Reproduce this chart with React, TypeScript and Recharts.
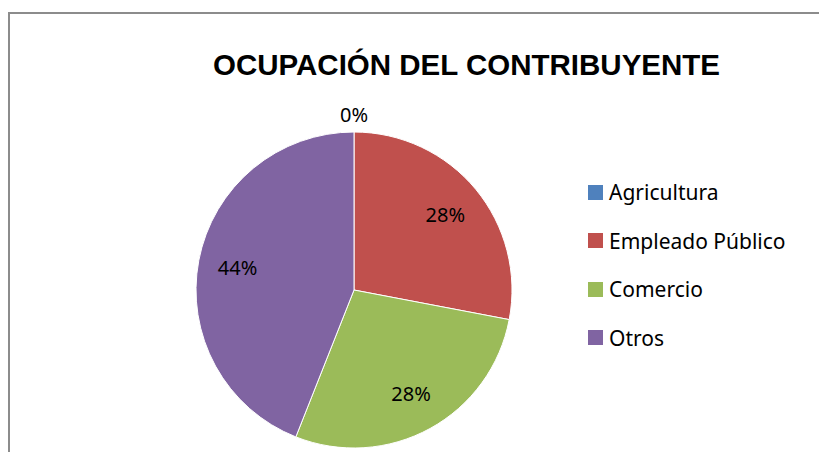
import { PieChart, Pie, Cell, Legend } from 'recharts';

const categories = ['Agricultura', 'Empleado Público', 'Comercio', 'Otros'];
const shares = [0, 28, 28, 44];
const colors = ['#4F81BD', '#C0504D', '#9BBB59', '#8064A2'];

const data = categories.map((name, i) => ({ name, value: shares[i] }));

const RAD = Math.PI / 180;

function renderLabel(props: any) {
  const { cx, cy, midAngle, outerRadius, value } = props;
  const r = value === 0 ? outerRadius + 18 : outerRadius * 0.75;
  const x = cx + r * Math.cos(-midAngle * RAD);
  const y = cy + r * Math.sin(-midAngle * RAD);
  return (
    <text
      x={x}
      y={y}
      textAnchor="middle"
      dominantBaseline="central"
      fill="#000"
      fontSize={20}
      fontFamily="'Noto Sans', sans-serif"
    >
      {`${value}%`}
    </text>
  );
}

function LegendList() {
  return (
    <div style={{ fontFamily: "'Noto Sans', sans-serif", fontSize: 21, color: '#000' }}>
      {categories.map((name, i) => (
        <div key={name} style={{ display: 'flex', alignItems: 'center', height: 48.5 }}>
          <span
            style={{ width: 15, height: 15, background: colors[i], display: 'inline-block', marginRight: 6 }}
          />
          <span>{name}</span>
        </div>
      ))}
    </div>
  );
}

export default function App() {
  return (
    <div style={{ position: 'fixed', left: 0, top: 0, width: 819, height: 452, overflow: 'hidden', background: '#fff' }}>
      {/* chart frame: only top and left edges are visible in the crop */}
      <div style={{ position: 'absolute', left: 8, top: 12, width: 811, height: 1.5, background: '#8c8c8c' }} />
      <div style={{ position: 'absolute', left: 8, top: 12, width: 1.5, height: 440, background: '#8c8c8c' }} />
      <div
        style={{
          position: 'absolute',
          left: 100,
          width: 733,
          top: 48,
          textAlign: 'center',
          fontFamily: "'Liberation Sans', Arial, sans-serif",
          fontWeight: 'bold',
          fontSize: 29.5,
          color: '#000',
        }}
      >
        OCUPACIÓN DEL CONTRIBUYENTE
      </div>
      <PieChart
        width={819}
        height={452}
        margin={{ top: 0, right: 0, bottom: 0, left: 0 }}
        style={{ position: 'absolute', left: 0, top: 0 }}
      >
        <Pie
          data={data}
          dataKey="value"
          nameKey="name"
          cx={354}
          cy={290}
          outerRadius={158}
          startAngle={90}
          endAngle={-270}
          stroke="#fff"
          strokeWidth={1}
          label={renderLabel}
          labelLine={false}
          isAnimationActive={false}
        >
          {data.map((d, i) => (
            <Cell key={d.name} fill={colors[i]} />
          ))}
        </Pie>
        <Legend
          content={() => <LegendList />}
          wrapperStyle={{ position: 'absolute', left: 588, top: 168, width: 225 }}
        />
      </PieChart>
    </div>
  );
}
